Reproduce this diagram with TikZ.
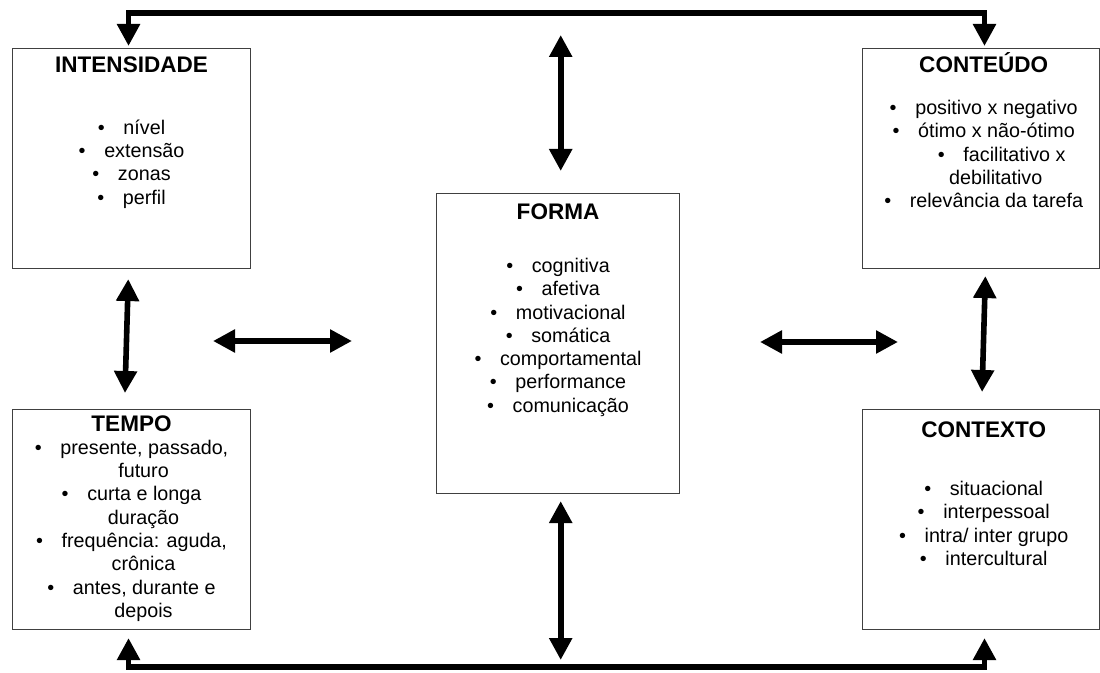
\documentclass[tikz,border=0pt]{standalone}
\usepackage{fontspec}
\setmainfont{Liberation Sans}
\usepackage{tikz}
\tikzset{>=latex}
\usetikzlibrary{arrows.meta}
\usetikzlibrary{positioning}
\newcommand{\itm}[1]{\textbullet\hspace{14pt}#1}
\newcommand{\ttl}[1]{{\fontsize{16.9}{17.5}\selectfont\bfseries #1}}
\newcommand{\cont}{\hspace*{18pt}}

\begin{document}
\begin{tikzpicture}[line join=miter,x=0.75pt,y=-0.75pt,
	box/.style={draw=black!75,line width=0.8pt,inner sep=0pt,anchor=north west,minimum width=178.5pt,minimum height=165pt},
	txt/.style={align=center,inner sep=0pt,font=\fontsize{14.8}{17.5}\selectfont},
	dbl/.style={{Triangle[width=16.5pt,length=16.5pt]}-{Triangle[width=16.5pt,length=16.5pt]},line width=4.2pt}]
		\useasboundingbox[fill=white] (0,0) rectangle (1100,673);
		% caixas
		\node[box] (intens) at (12,48) {};
		\node[box] (tempo) at (12,409) {};
		\node[box,minimum width=177.75pt] (conteudo) at (862,48) {};
		\node[box,minimum width=177.75pt] (contexto) at (862,409) {};
		\node[box,minimum width=182.25pt,minimum height=225pt] (forma) at (436,193) {};
		% textos
		\node[txt,below=6.25pt of intens.north] (intensTxt) {\ttl{INTENSIDADE}\\[29pt]
			\itm{nível}\\ \itm{extensão}\\ \itm{zonas}\\ \itm{perfil}};
		\node[txt,below=3.25pt of conteudo.north,xshift=2pt] (conteudoTxt) {\ttl{CONTEÚDO}\\[14pt]
			\itm{positivo x negativo}\\ \itm{ótimo x não-ótimo}\\ \hspace*{27pt}\itm{facilitativo x}\\
			\cont debilitativo\\ \itm{relevância da tarefa}};
		\node[txt,below=8pt of forma.north] (formaTxt) {\ttl{FORMA}\\[22pt]
			\itm{cognitiva}\\ \itm{afetiva}\\ \itm{motivacional}\\ \itm{somática}\\
			\itm{comportamental}\\ \itm{performance}\\ \itm{comunicação}};
		\node[txt,below=4.75pt of tempo.north] (tempoTxt) {\ttl{TEMPO}\\[-0.5pt]
			\itm{presente, passado,}\\ \cont futuro\\ \itm{curta e longa}\\ \cont duração\\
			\itm{frequência: aguda,}\\ \cont crônica\\ \itm{antes, durante e}\\ \cont depois};
		\node[txt,below=9.25pt of contexto.north,xshift=2pt] (contextoTxt) {\ttl{CONTEXTO}\\[26pt]
			\itm{situacional}\\ \itm{interpessoal}\\ \itm{intra/ inter grupo}\\ \itm{intercultural}};
		% setas
		\coordinate (top) at (0,13);
		\coordinate (bot) at (0,667);
		\coordinate (intensIn) at ([xshift=-2.25pt]intens.north);
		\coordinate (conteudoIn) at ([xshift=2.6pt]conteudo.north);
		\coordinate (tempoIn) at ([xshift=-2.25pt]tempo.south);
		\coordinate (contextoIn) at ([xshift=2.6pt]contexto.south);
		\draw[dbl,shorten <=1.5pt,shorten >=1.5pt] (intensIn) -- (intensIn |- top) -- (conteudoIn |- top) -- (conteudoIn);
		\draw[dbl,shorten <=6pt,shorten >=6pt] (tempoIn) -- (tempoIn |- bot) -- (contextoIn |- bot) -- (contextoIn);
		\draw[dbl,shorten <=16.5pt,shorten >=16.5pt] ([xshift=2pt]forma.north) -- ([xshift=2pt]forma.north |- top);
		\draw[dbl,shorten <=5.25pt,shorten >=5.25pt] ([xshift=2pt]forma.south) -- ([xshift=2pt]forma.south |- bot);
		\draw[dbl,shorten <=7.5pt,shorten >=12pt] ([xshift=-2.25pt]intens.south) -- ([xshift=-5.25pt]tempo.north);
		\draw[dbl,shorten <=5.25pt,shorten >=12.75pt] ([xshift=3.4pt]conteudo.south) -- ([xshift=0.4pt]contexto.north);
		\coordinate (hl1) at (213,341);
		\coordinate (hl2) at (352,341);
		\coordinate (hr1) at (760,342);
		\coordinate (hr2) at (898,342);
		\draw[dbl] (hl1) -- (hl2);
		\draw[dbl] (hr1) -- (hr2);
\end{tikzpicture}
\end{document}
